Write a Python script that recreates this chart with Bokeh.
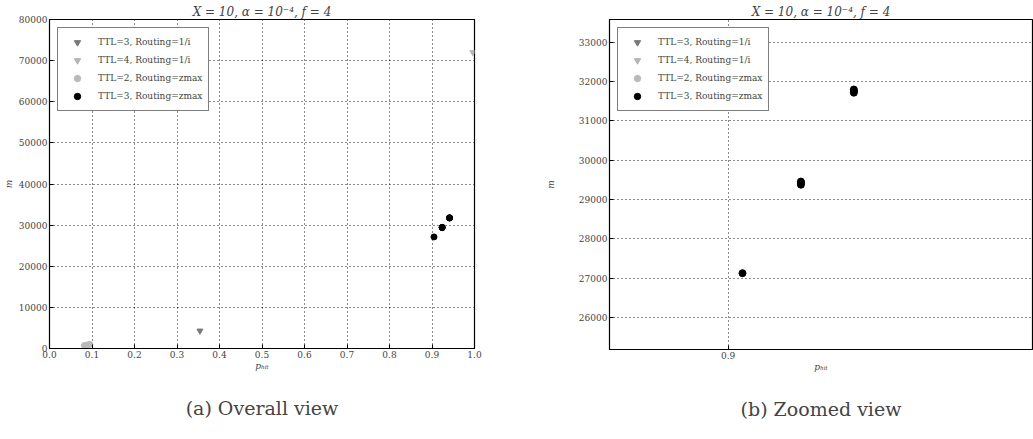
from bokeh.plotting import figure
from bokeh.layouts import row
from bokeh.models import FixedTicker, PrintfTickFormatter, NumeralTickFormatter, Title, Range1d, Legend, LegendItem
from bokeh.embed import file_html
from bokeh.resources import INLINE

# ---- data ----
ttl3_inv_x = [0.354]
ttl3_inv_y = [4300]
ttl4_inv_x = [0.996]
ttl4_inv_y = [72000]
ttl2_zmax_x = [0.082, 0.087, 0.091, 0.095]
ttl2_zmax_y = [700, 800, 900, 1000]
ttl3_zmax_x = [0.9047, 0.9239, 0.9239, 0.9239, 0.9413, 0.9413, 0.9413]
ttl3_zmax_y = [27130, 29380, 29420, 29460, 31720, 31760, 31800]

labels = ["TTL=3, Routing=1/i", "TTL=4, Routing=1/i",
          "TTL=2, Routing=zmax", "TTL=3, Routing=zmax"]
title_text = "X = 10, α = 10⁻⁴, f = 4"
left_xticks = [0.0, 0.1, 0.2, 0.3, 0.4, 0.5, 0.6, 0.7, 0.8, 0.9, 1.0]
left_yticks = [0, 10000, 20000, 30000, 40000, 50000, 60000, 70000, 80000]
right_xticks = [0.9]
right_yticks = [26000, 27000, 28000, 29000, 30000, 31000, 32000, 33000]

SERIF = "'DejaVu Serif', 'Liberation Serif', serif"


def make(xr, yr, xticks, yticks, xfmt, ml, mr, mt, fw, fh, ylab_standoff, caption, tri, circ):
    p = figure(frame_width=fw, frame_height=fh, output_backend="svg",
               toolbar_location=None, x_range=Range1d(*xr), y_range=Range1d(*yr),
               min_border_left=ml, min_border_right=mr, min_border_top=mt,
               min_border_bottom=439 - mt - fh)
    p.title.text = title_text
    p.title.align = "center"
    p.title.text_font = SERIF
    p.title.text_font_size = "12px"
    p.title.text_font_style = "italic"
    p.title.standoff = 2
    p.outline_line_color = "black"
    p.outline_line_width = 1.2
    p.outline_line_alpha = 1
    p.background_fill_color = "white"
    p.border_fill_color = "white"

    r1 = p.scatter(ttl3_inv_x, ttl3_inv_y, marker="inverted_triangle", size=tri,
                   fill_color="#7a7a7a", line_color="#7a7a7a")
    r2 = p.scatter(ttl4_inv_x, ttl4_inv_y, marker="inverted_triangle", size=tri,
                   fill_color="#b5b5b5", line_color="#b5b5b5")
    r3 = p.scatter(ttl2_zmax_x, ttl2_zmax_y, marker="circle", size=circ,
                   fill_color="#bababa", line_color="#bababa")
    r4 = p.scatter(ttl3_zmax_x, ttl3_zmax_y, marker="circle", size=circ,
                   fill_color="black", line_color="black")

    leg = Legend(items=[LegendItem(label=l, renderers=[r]) for l, r in zip(labels, [r1, r2, r3, r4])],
                 location="top_left", margin=8, padding=6, spacing=2,
                 glyph_height=16, label_height=16, glyph_width=26, label_standoff=8,
                 label_text_font=SERIF, label_text_font_size="9px",
                 border_line_color="black", border_line_width=1.2,
                 background_fill_alpha=1)
    p.add_layout(leg)

    for ax in (p.xaxis[0], p.yaxis[0]):
        ax.major_tick_in = 4
        ax.major_tick_out = 0
        ax.minor_tick_line_color = None
        ax.major_label_text_font = SERIF
        ax.major_label_text_font_size = "9px"
        ax.axis_label_text_font = SERIF
        ax.axis_label_text_font_size = "9px"
        ax.axis_label_text_font_style = "italic"
        ax.axis_line_color = "black"
        ax.major_label_standoff = 2
    p.xaxis.ticker = FixedTicker(ticks=xticks)
    p.yaxis.ticker = FixedTicker(ticks=yticks)
    p.xaxis.formatter = xfmt
    p.yaxis.formatter = NumeralTickFormatter(format="0")
    p.xaxis.axis_label = "pₕᵢₜ"
    p.yaxis.axis_label = "m"
    p.xaxis.axis_label_standoff = 0
    p.yaxis.axis_label_standoff = ylab_standoff

    for g in (p.xgrid[0], p.ygrid[0]):
        g.grid_line_color = "black"
        g.grid_line_dash = "1 3"
        g.grid_line_width = 1
        g.grid_line_alpha = 0.9

    cap = Title(text=caption, align="center", text_font=SERIF,
                text_font_size="19px", text_font_style="normal", standoff=43)
    p.add_layout(cap, "below")
    return p


p1 = make((0.0, 1.0), (0, 80000), left_xticks, left_yticks, PrintfTickFormatter(format="%.1f"),
          49, 42, 19, 425, 329, 2, "(a) Overall view", 6, 6)
p2 = make((0.861, 1.0), (25190, 33580), right_xticks, right_yticks, PrintfTickFormatter(format="%.1f"),
          93, 1, 18, 423, 330, 20, "(b) Zoomed view", 7, 7)

layout = row(p1, p2)
open("out.html", "w").write(file_html(layout, INLINE))
